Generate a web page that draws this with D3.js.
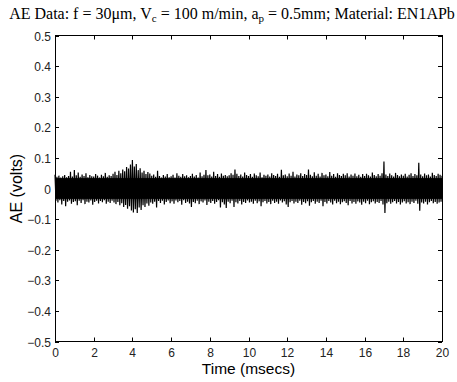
<!DOCTYPE html>
<html>
<head>
<meta charset="utf-8">
<script src="https://cdn.jsdelivr.net/npm/d3@7"></script>
<style>
  body { margin: 0; background: #fff; }
  svg { display: block; }
</style>
</head>
<body>
<div id="chart"></div>
<script>
const timeStep = 0.1;
const upperPeak = [
  0.045,0.038,0.042,0.036,0.040,0.044,0.037,0.041,0.055,0.039,
  0.060,0.043,0.052,0.038,0.046,0.041,0.050,0.037,0.044,0.040,
  0.039,0.047,0.042,0.036,0.045,0.040,0.051,0.038,0.043,0.041,
  0.048,0.055,0.044,0.058,0.050,0.062,0.056,0.070,0.065,0.078,
  0.093,0.072,0.080,0.060,0.066,0.052,0.058,0.047,0.054,0.049,
  0.042,0.046,0.038,0.058,0.041,0.036,0.044,0.039,0.047,0.037,
  0.040,0.045,0.036,0.050,0.042,0.038,0.047,0.040,0.043,0.037,
  0.041,0.048,0.039,0.044,0.036,0.052,0.040,0.045,0.060,0.043,
  0.046,0.039,0.055,0.041,0.047,0.038,0.049,0.042,0.044,0.040,
  0.043,0.050,0.045,0.062,0.048,0.041,0.046,0.039,0.052,0.044,
  0.041,0.047,0.038,0.049,0.043,0.040,0.052,0.037,0.045,0.042,
  0.046,0.039,0.050,0.044,0.041,0.048,0.038,0.061,0.043,0.046,
  0.040,0.049,0.042,0.055,0.039,0.046,0.043,0.050,0.041,0.047,
  0.044,0.062,0.045,0.040,0.053,0.042,0.048,0.039,0.051,0.043,
  0.046,0.040,0.054,0.042,0.047,0.038,0.050,0.044,0.041,0.048,
  0.043,0.050,0.039,0.046,0.042,0.049,0.040,0.045,0.038,0.047,
  0.041,0.048,0.043,0.039,0.052,0.044,0.040,0.047,0.042,0.050,
  0.088,0.046,0.041,0.049,0.043,0.039,0.051,0.044,0.040,0.046,
  0.042,0.048,0.039,0.045,0.050,0.041,0.047,0.043,0.084,0.046,
  0.040,0.049,0.043,0.046,0.039,0.051,0.044,0.041,0.048,0.045,
  0.042
];
const lowerPeak = [
  -0.040,-0.046,-0.038,-0.052,-0.041,-0.058,-0.043,-0.039,-0.050,-0.044,
  -0.042,-0.055,-0.040,-0.047,-0.038,-0.051,-0.043,-0.046,-0.039,-0.053,
  -0.044,-0.040,-0.049,-0.041,-0.045,-0.038,-0.050,-0.043,-0.047,-0.040,
  -0.046,-0.051,-0.044,-0.055,-0.048,-0.060,-0.054,-0.066,-0.058,-0.072,
  -0.078,-0.068,-0.080,-0.062,-0.070,-0.055,-0.060,-0.049,-0.056,-0.046,
  -0.050,-0.043,-0.062,-0.041,-0.047,-0.040,-0.052,-0.044,-0.039,-0.048,
  -0.042,-0.050,-0.039,-0.045,-0.041,-0.053,-0.038,-0.047,-0.043,-0.049,
  -0.060,-0.044,-0.048,-0.040,-0.051,-0.042,-0.046,-0.039,-0.054,-0.043,
  -0.047,-0.041,-0.050,-0.044,-0.038,-0.062,-0.045,-0.052,-0.064,-0.043,
  -0.048,-0.040,-0.060,-0.045,-0.049,-0.041,-0.052,-0.044,-0.047,-0.039,
  -0.046,-0.043,-0.050,-0.040,-0.048,-0.042,-0.058,-0.045,-0.041,-0.049,
  -0.044,-0.051,-0.040,-0.047,-0.043,-0.050,-0.039,-0.046,-0.042,-0.052,
  -0.060,-0.045,-0.041,-0.049,-0.043,-0.047,-0.040,-0.053,-0.044,-0.048,
  -0.042,-0.056,-0.045,-0.041,-0.050,-0.043,-0.047,-0.040,-0.058,-0.044,
  -0.049,-0.041,-0.046,-0.052,-0.040,-0.048,-0.043,-0.051,-0.045,-0.042,
  -0.047,-0.055,-0.041,-0.049,-0.044,-0.050,-0.042,-0.046,-0.053,-0.043,
  -0.048,-0.040,-0.051,-0.045,-0.042,-0.049,-0.044,-0.047,-0.041,-0.052,
  -0.080,-0.048,-0.043,-0.050,-0.045,-0.041,-0.049,-0.044,-0.052,-0.046,
  -0.042,-0.049,-0.045,-0.051,-0.043,-0.047,-0.040,-0.050,-0.073,-0.046,
  -0.049,-0.043,-0.052,-0.045,-0.041,-0.048,-0.044,-0.050,-0.046,-0.043,
  -0.045
];
const xTicks = [0, 2, 4, 6, 8, 10, 12, 14, 16, 18, 20];
const yTicks = [-0.5, -0.4, -0.3, -0.2, -0.1, 0, 0.1, 0.2, 0.3, 0.4, 0.5];

const width = 457, height = 382;
const margin = { top: 35, right: 15, bottom: 40, left: 55 };

const svg = d3.select("#chart").append("svg")
  .attr("width", width)
  .attr("height", height);

const x = d3.scaleLinear().domain([0, 20]).range([margin.left, width - margin.right]);
const y = d3.scaleLinear().domain([-0.5, 0.5]).range([height - margin.bottom - 0.5, margin.top + 0.5]);

// Title with subscripts
const title = svg.append("text")
  .attr("x", 232)
  .attr("y", 19)
  .attr("text-anchor", "middle")
  .style("font-family", "'Liberation Serif', 'Times New Roman', serif")
  .style("font-size", "16px")
  .style("fill", "#000");
title.append("tspan").text("AE Data: f = 30\u03bcm, V");
title.append("tspan").attr("dy", 3).style("font-size", "11px").text("c");
title.append("tspan").attr("dy", -3).text(" = 100 m/min, a");
title.append("tspan").attr("dy", 3).style("font-size", "11px").text("p");
title.append("tspan").attr("dy", -3).text(" = 0.5mm; Material: EN1APb");

// Signal: alternate between upper and lower peaks for each sample
const pts = [];
upperPeak.forEach((v, i) => {
  const t = i * timeStep;
  pts.push([t, v]);
  if (i < upperPeak.length - 1) pts.push([t + timeStep / 2, lowerPeak[i]]);
});
const line = d3.line().x(d => x(d[0])).y(d => y(d[1]));
svg.append("path")
  .datum(pts)
  .attr("d", line)
  .attr("fill", "none")
  .attr("stroke", "#000")
  .attr("stroke-width", 1.2);

// Dense core band
svg.append("rect")
  .attr("x", x(0))
  .attr("y", y(0.034))
  .attr("width", x(20) - x(0))
  .attr("height", y(-0.034) - y(0.034))
  .attr("fill", "#000");

// Axes box
const tickLen = 4;
const axisColor = "#000";
const g = svg.append("g");
g.append("rect")
  .attr("x", x(0) + 0.5).attr("y", y(0.5))
  .attr("width", x(20) - x(0)).attr("height", y(-0.5) - y(0.5))
  .attr("fill", "none").attr("stroke", axisColor).attr("stroke-width", 1);

const fontSans = "'Liberation Sans', Arial, Helvetica, sans-serif";

xTicks.forEach(v => {
  const px = Math.round(x(v)) + 0.5;
  g.append("line").attr("x1", px).attr("x2", px)
    .attr("y1", y(-0.5)).attr("y2", y(-0.5) - tickLen).attr("stroke", axisColor);
  g.append("line").attr("x1", px).attr("x2", px)
    .attr("y1", y(0.5)).attr("y2", y(0.5) + tickLen).attr("stroke", axisColor);
  g.append("text").attr("x", px).attr("y", y(-0.5) + 15)
    .attr("text-anchor", "middle")
    .style("font-family", fontSans).style("font-size", "12px").style("fill", "#222")
    .text(d3.format("d")(v));
});

yTicks.forEach(v => {
  const py = Math.round(y(v)) + 0.5;
  g.append("line").attr("x1", x(0)).attr("x2", x(0) + tickLen)
    .attr("y1", py).attr("y2", py).attr("stroke", axisColor);
  g.append("line").attr("x1", x(20)).attr("x2", x(20) - tickLen)
    .attr("y1", py).attr("y2", py).attr("stroke", axisColor);
  g.append("text").attr("x", x(0) - 4).attr("y", py + 4)
    .attr("text-anchor", "end")
    .style("font-family", fontSans).style("font-size", "12px").style("fill", "#222")
    .text(v === 0 ? "0" : d3.format(".1f")(v));
});

// Axis titles
svg.append("text")
  .attr("x", (x(0) + x(20)) / 2)
  .attr("y", 374)
  .attr("text-anchor", "middle")
  .style("font-family", fontSans).style("font-size", "15.5px").style("fill", "#000")
  .text("Time (msecs)");

svg.append("text")
  .attr("transform", `translate(22,${y(0)}) rotate(-90)`)
  .attr("text-anchor", "middle")
  .style("font-family", fontSans).style("font-size", "16px").style("fill", "#000")
  .text("AE (volts)");
</script>
</body>
</html>
